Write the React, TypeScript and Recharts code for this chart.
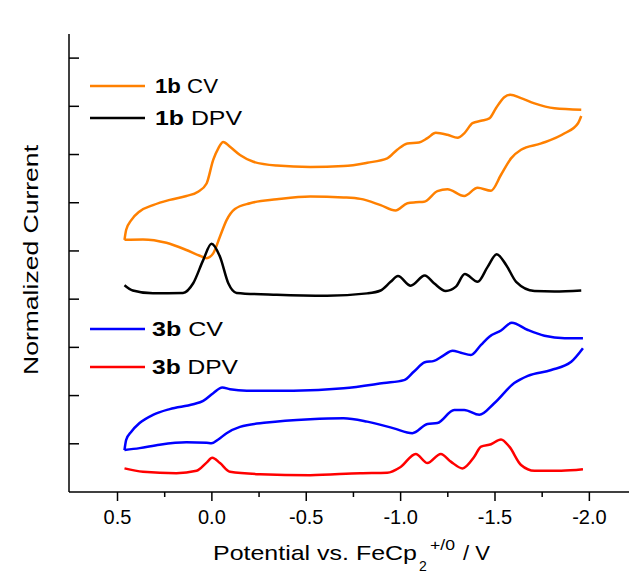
import React from 'react';
import { LineChart, Line, XAxis, YAxis } from 'recharts';

type Pair = [number, number];

// [potential (V vs FeCp2), normalized current]
const cv1bUpper: Pair[] = [
  [0.463, 5.23], [0.454, 5.44], [0.427, 5.64], [0.383, 5.82], [0.312, 5.95], [0.223, 6.06],
  [0.135, 6.14], [0.073, 6.23], [0.028, 6.4], [-0.007, 6.89], [-0.034, 7.13], [-0.06, 7.26],
  [-0.096, 7.16], [-0.149, 6.99], [-0.22, 6.85], [-0.344, 6.77], [-0.521, 6.74], [-0.698, 6.76],
  [-0.823, 6.83], [-0.929, 6.92], [-0.982, 7.1], [-1.036, 7.23], [-1.097, 7.25], [-1.142, 7.34],
  [-1.186, 7.45], [-1.248, 7.41], [-1.302, 7.35], [-1.337, 7.44], [-1.381, 7.65], [-1.426, 7.7],
  [-1.47, 7.75], [-1.505, 7.96], [-1.549, 8.19], [-1.581, 8.24], [-1.638, 8.17], [-1.709, 8.06],
  [-1.815, 7.96], [-1.957, 7.93],
];

const cv1bLower: Pair[] = [
  [0.463, 5.23], [0.365, 5.24], [0.241, 5.17], [0.135, 5.02], [0.064, 4.9], [0.028, 4.85],
  [-0.007, 4.95], [-0.043, 5.3], [-0.078, 5.64], [-0.122, 5.87], [-0.202, 5.99], [-0.344, 6.07],
  [-0.521, 6.13], [-0.698, 6.11], [-0.787, 6.08], [-0.894, 5.95], [-0.973, 5.84], [-1.036, 5.99],
  [-1.08, 6.01], [-1.124, 6.02], [-1.195, 6.24], [-1.248, 6.28], [-1.337, 6.14], [-1.408, 6.31],
  [-1.479, 6.25], [-1.532, 6.58], [-1.585, 6.92], [-1.638, 7.1], [-1.745, 7.23], [-1.869, 7.44],
  [-1.94, 7.65], [-1.957, 7.8],
];

const dpv1b: Pair[] = [
  [0.463, 4.29], [0.419, 4.18], [0.312, 4.12], [0.153, 4.13], [0.099, 4.33], [0.046, 4.81],
  [0.002, 5.15], [-0.043, 4.88], [-0.087, 4.33], [-0.131, 4.13], [-0.344, 4.09], [-0.61, 4.07],
  [-0.823, 4.12], [-0.894, 4.18], [-0.947, 4.36], [-0.986, 4.48], [-1.053, 4.28], [-1.128, 4.49],
  [-1.177, 4.33], [-1.239, 4.17], [-1.293, 4.26], [-1.34, 4.52], [-1.408, 4.36], [-1.461, 4.67],
  [-1.509, 4.93], [-1.559, 4.71], [-1.612, 4.36], [-1.709, 4.17], [-1.815, 4.16], [-1.957, 4.18],
];

const cv3bUpper: Pair[] = [
  [0.463, 0.87], [0.454, 1.08], [0.427, 1.25], [0.383, 1.43], [0.312, 1.6], [0.223, 1.72],
  [0.099, 1.82], [0.046, 1.89], [-0.007, 2.05], [-0.055, 2.17], [-0.096, 2.13], [-0.185, 2.1],
  [-0.432, 2.1], [-0.698, 2.15], [-0.911, 2.26], [-1.018, 2.32], [-1.071, 2.5], [-1.128, 2.69],
  [-1.177, 2.72], [-1.23, 2.84], [-1.275, 2.93], [-1.319, 2.89], [-1.372, 2.84], [-1.426, 3.05],
  [-1.47, 3.22], [-1.532, 3.35], [-1.589, 3.51], [-1.674, 3.36], [-1.762, 3.24], [-1.869, 3.19],
  [-1.966, 3.19],
];

const cv3bLower: Pair[] = [
  [0.463, 0.87], [0.383, 0.91], [0.277, 0.98], [0.135, 1.03], [0.028, 1.02], [0.002, 1.01],
  [-0.034, 1.09], [-0.078, 1.22], [-0.149, 1.35], [-0.291, 1.44], [-0.521, 1.51], [-0.698, 1.53],
  [-0.823, 1.46], [-0.964, 1.32], [-1.062, 1.22], [-1.142, 1.41], [-1.195, 1.43], [-1.284, 1.7],
  [-1.337, 1.7], [-1.417, 1.6], [-1.496, 1.84], [-1.602, 2.26], [-1.674, 2.41], [-1.798, 2.53],
  [-1.904, 2.7], [-1.966, 2.98],
];

const dpv3b: Pair[] = [
  [0.463, 0.49], [0.365, 0.42], [0.188, 0.39], [0.081, 0.44], [0.028, 0.61], [-0.002, 0.71],
  [-0.043, 0.6], [-0.096, 0.42], [-0.255, 0.37], [-0.521, 0.35], [-0.787, 0.39], [-0.929, 0.4],
  [-1.0, 0.52], [-1.08, 0.79], [-1.142, 0.6], [-1.213, 0.79], [-1.266, 0.63], [-1.328, 0.49],
  [-1.39, 0.73], [-1.426, 0.94], [-1.479, 0.99], [-1.532, 1.09], [-1.576, 0.94], [-1.638, 0.56],
  [-1.709, 0.44], [-1.851, 0.44], [-1.966, 0.47],
];

const xMajorTicks = [0.5, 0, -0.5, -1, -1.5, -2];
const xAllTicks = [0.5, 0.25, 0, -0.25, -0.5, -0.75, -1, -1.25, -1.5, -1.75, -2];
const yTicks = [1, 2, 3, 4, 5, 6, 7, 8, 9];

const ORANGE = '#FF8000';
const BLACK = '#000000';
const BLUE = '#0000FF';
const RED = '#FF0000';
const FONT = '"Liberation Sans", Arial, sans-serif';

const toPoints = (pairs: Pair[]) => pairs.map(([e, i]) => ({ e, i }));

const XTick = (props: any) => {
  const { x, y, payload } = props;
  const v = payload.value as number;
  const major = xMajorTicks.some((m) => Math.abs(m - v) < 1e-6);
  return (
    <g>
      <line x1={x} y1={y} x2={x} y2={y + (major ? 9 : 5)} stroke="#000" strokeWidth={1.5} />
      {major && (
        <text x={x} y={y + 32} textAnchor="middle" fontSize={20} fontFamily={FONT} fill="#000">
          {v.toFixed(1)}
        </text>
      )}
    </g>
  );
};

// inward tick marks, no labels
const YTick = (props: any) => {
  const { x, y } = props;
  return <line x1={x} y1={y} x2={x + 10} y2={y} stroke="#000" strokeWidth={1.5} />;
};

const LegendRow = ({ y, color, id, kind, x0, width }: any) => (
  <g>
    <line x1={90} y1={y} x2={145} y2={y} stroke={color} strokeWidth={2.5} />
    <text
      x={x0}
      y={y + 7}
      fontSize={20}
      fontFamily={FONT}
      fill="#000"
      textLength={width}
      lengthAdjust="spacingAndGlyphs"
    >
      <tspan fontWeight="bold">{id}</tspan> {kind}
    </text>
  </g>
);

export default function App() {
  return (
    <div style={{ position: 'absolute', left: 0, top: 0, width: 629, height: 575, background: '#fff' }}>
      <LineChart width={629} height={575} margin={{ top: 34, right: 0, bottom: 0, left: 59 }}>
        <XAxis
          dataKey="e"
          type="number"
          domain={[-2.21, 0.757]}
          reversed
          allowDataOverflow
          ticks={xAllTicks}
          interval={0}
          tick={(p: any) => <XTick {...p} />}
          tickLine={false}
          tickSize={0}
          tickMargin={0}
          height={83}
          axisLine={{ stroke: '#000', strokeWidth: 1.5 }}
        />
        <YAxis
          type="number"
          domain={[0, 9.5]}
          allowDataOverflow
          ticks={yTicks}
          interval={0}
          width={10}
          tick={(p: any) => <YTick {...p} />}
          tickLine={false}
          tickSize={0}
          tickMargin={0}
          axisLine={{ stroke: '#000', strokeWidth: 1.5 }}
        />
        <Line data={toPoints(cv1bUpper)} dataKey="i" type="monotone" stroke={ORANGE} strokeWidth={2.5} dot={false} isAnimationActive={false} />
        <Line data={toPoints(cv1bLower)} dataKey="i" type="monotone" stroke={ORANGE} strokeWidth={2.5} dot={false} isAnimationActive={false} />
        <Line data={toPoints(dpv1b)} dataKey="i" type="monotone" stroke={BLACK} strokeWidth={2.5} dot={false} isAnimationActive={false} />
        <Line data={toPoints(cv3bUpper)} dataKey="i" type="monotone" stroke={BLUE} strokeWidth={2.5} dot={false} isAnimationActive={false} />
        <Line data={toPoints(cv3bLower)} dataKey="i" type="monotone" stroke={BLUE} strokeWidth={2.5} dot={false} isAnimationActive={false} />
        <Line data={toPoints(dpv3b)} dataKey="i" type="monotone" stroke={RED} strokeWidth={2.5} dot={false} isAnimationActive={false} />
      </LineChart>
      <svg width={629} height={575} style={{ position: 'absolute', left: 0, top: 0, pointerEvents: 'none' }}>
        <LegendRow y={86} color={ORANGE} id="1b" kind="CV" x0={155} width={63} />
        <LegendRow y={118} color={BLACK} id="1b" kind="DPV" x0={155} width={87} />
        <LegendRow y={329} color={BLUE} id="3b" kind="CV" x0={152} width={71} />
        <LegendRow y={367} color={RED} id="3b" kind="DPV" x0={152} width={86} />
        <text
          transform="translate(38,260) rotate(-90)"
          textAnchor="middle"
          fontSize={20}
          fontFamily={FONT}
          fill="#000"
          textLength={230}
          lengthAdjust="spacingAndGlyphs"
        >
          Normalized Current
        </text>
        <text
          x={213}
          y={560}
          fontSize={21}
          fontFamily={FONT}
          fill="#000"
          textLength={204}
          lengthAdjust="spacingAndGlyphs"
        >
          Potential vs. FeCp
        </text>
        <text x={419} y={571} fontSize={14} fontFamily={FONT} fill="#000">2</text>
        <text x={430} y={550} fontSize={14} fontFamily={FONT} fill="#000" textLength={25} lengthAdjust="spacingAndGlyphs">+/0</text>
        <text x={463} y={560} fontSize={21} fontFamily={FONT} fill="#000" textLength={27} lengthAdjust="spacingAndGlyphs">/ V</text>
      </svg>
    </div>
  );
}
